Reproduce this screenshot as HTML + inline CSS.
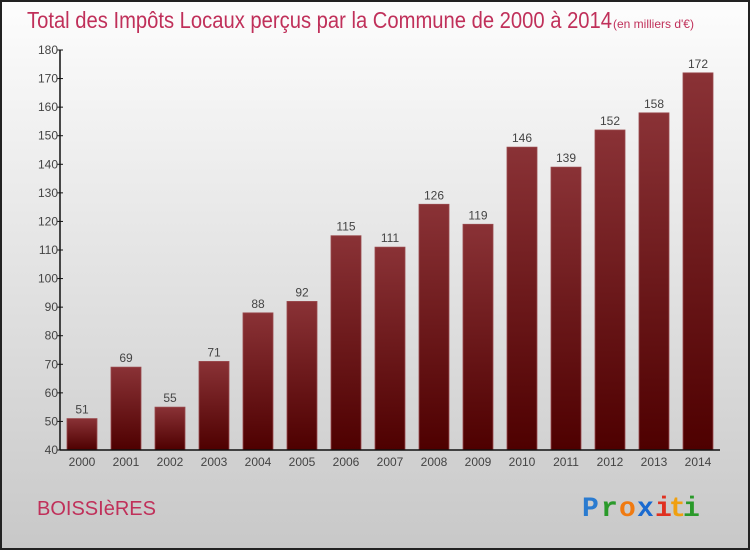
<!DOCTYPE html>
<html><head><meta charset="utf-8"><style>
body{margin:0;width:750px;height:550px;overflow:hidden;font-family:"Liberation Sans",sans-serif}
</style></head><body>
<svg id="c" width="750" height="550" xmlns="http://www.w3.org/2000/svg">
<defs>
<linearGradient id="bg" x1="0" y1="0" x2="0" y2="1"><stop offset="0" stop-color="#fdfdfd"/><stop offset="1" stop-color="#c8c8c8"/></linearGradient>
<linearGradient id="bar" x1="0" y1="0" x2="0" y2="1"><stop offset="0" stop-color="#8a3236"/><stop offset="1" stop-color="#4e0000"/></linearGradient>
</defs>
<rect x="1" y="1" width="748" height="548" fill="url(#bg)" stroke="#222" stroke-width="2"/>
<text x="27" y="28" font-size="23" fill="#c0305a" textLength="585" lengthAdjust="spacingAndGlyphs">Total des Impôts Locaux perçus par la Commune de 2000 à 2014</text>
<text x="613" y="28" font-size="12" fill="#c0305a">(en milliers d'€)</text>
<text x="37" y="515" font-size="20" fill="#c0305a">BOISSIèRES</text>
<g font-size="28" font-weight="bold" font-family="'Liberation Mono',monospace">
<text x="582" y="516" fill="#2a7bd0">P</text><text x="601" y="516" fill="#2a9a2a">r</text><text x="619" y="516" fill="#f07a10">o</text><text x="637" y="516" fill="#1a6ad0">x</text><text x="655" y="516" fill="#e03020">i</text><text x="669" y="516" fill="#f0a010">t</text><text x="683" y="516" fill="#2a9a2a">i</text>
</g>
<g id="plot"></g>
</svg>
<script>
const years=["2000","2001","2002","2003","2004","2005","2006","2007","2008","2009","2010","2011","2012","2013","2014"];
const values=[51,69,55,71,88,92,115,111,126,119,146,139,152,158,172];
const yTicks=[40,50,60,70,80,90,100,110,120,130,140,150,160,170,180];
const NS="http://www.w3.org/2000/svg";
const plotG=document.getElementById('plot');
const yMin=40,yMax=180,plotTop=50,plotBot=450,ax0=60,ax1=720;
const yScale=v=>plotBot-(v-yMin)/(yMax-yMin)*(plotBot-plotTop);
const step=44,first=82,bw=30;
const xScale=i=>first+i*step;
function mk(t,a,txt){const e=document.createElementNS(NS,t);for(const k in a)e.setAttribute(k,a[k]);if(txt!==undefined)e.textContent=txt;plotG.appendChild(e);return e;}
values.forEach((v,i)=>{
 const r=mk('rect',{x:xScale(i)-bw/2,y:yScale(v),width:bw,height:plotBot-yScale(v),fill:'url(#bar)',stroke:'#9a4a4e','stroke-width':0.8});
 
 
 const l=mk('text',{x:xScale(i),y:yScale(v)-5,'text-anchor':'middle','font-size':12,fill:'#444'},v);
 
 
 const xl=mk('text',{x:xScale(i),y:plotBot+16,'text-anchor':'middle','font-size':12,fill:'#444'},years[i]);
 
 
});
yTicks.forEach(t=>{
 const tk=mk('line',{x1:ax0-3,x2:ax0+3,y1:yScale(t),y2:yScale(t),stroke:'#111'});
 
 
 const tl=mk('text',{x:ax0-2,y:yScale(t)+4,'text-anchor':'end','font-size':12,fill:'#444'},t);
 
 
});
const ya=mk('line',{x1:ax0,x2:ax0,y1:plotTop,y2:plotBot,stroke:'#111','stroke-width':1.5});


const xa=mk('line',{x1:ax0,x2:ax1,y1:plotBot,y2:plotBot,stroke:'#111','stroke-width':1.5});


</script>
</body></html>
